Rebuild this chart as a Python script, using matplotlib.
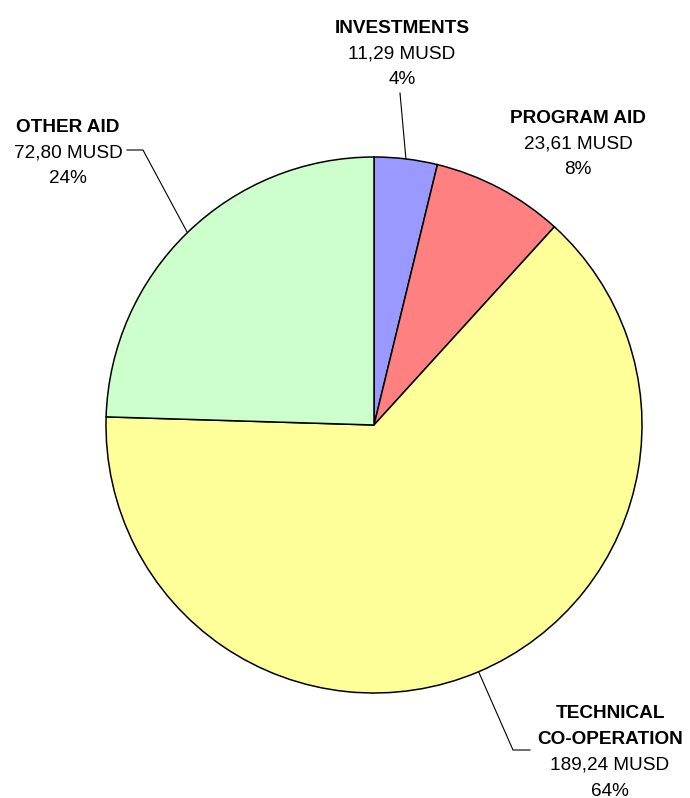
import numpy as np
import matplotlib.pyplot as plt

# data
categories = ['INVESTMENTS', 'PROGRAM AID', 'TECHNICAL\nCO-OPERATION', 'OTHER AID']
values = [11.29, 23.61, 189.24, 72.80]
value_labels = ['11,29 MUSD', '23,61 MUSD', '189,24 MUSD', '72,80 MUSD']
pct_labels = ['4%', '8%', '64%', '24%']
colors = ['#9999FF', '#FF8080', '#FFFF99', '#CCFFCC']

W, H = 690, 798
plt.rcParams['font.family'] = ['Liberation Sans', 'DejaVu Sans']
FS = 13.7

fig = plt.figure(figsize=(W / 100, H / 100), dpi=100)
ax = fig.add_axes([0, 0, 1, 1])
ax.set_xlim(0, W)
ax.set_ylim(0, H)
ax.set_aspect('equal')
ax.axis('off')


def py(y):
    # pixel row (top down) -> axes y (bottom up)
    return H - y


cx, cy, r = 374, py(425), 268
wedges, _ = ax.pie(values, colors=colors, startangle=90, counterclock=False,
                   center=(cx, cy), radius=r,
                   wedgeprops=dict(edgecolor='black', linewidth=1.1))
ax.set_xlim(0, W)
ax.set_ylim(0, H)


def edge_point(w):
    mid = np.deg2rad((w.theta1 + w.theta2) / 2)
    return cx + r * np.cos(mid), cy + r * np.sin(mid)


# label layout: (center x, baseline of first line in pixel rows)
label_pos = [(402, 33), (578, 123), (610, 718), (68, 132)]
line_gap = 25.5

for i, (lx, ly) in enumerate(label_pos):
    y = ly
    for ln in categories[i].split('\n'):
        ax.text(lx, py(y), ln, ha='center', va='baseline', fontsize=FS,
                fontweight='bold')
        y += line_gap + 1
    y -= 1
    ax.text(lx, py(y), value_labels[i], ha='center', va='baseline', fontsize=FS)
    y += line_gap
    ax.text(lx, py(y), pct_labels[i], ha='center', va='baseline', fontsize=FS)

# leader lines
lk = dict(color='black', linewidth=0.8)
ex, ey = edge_point(wedges[0])
ax.plot([400, ex], [py(93), ey], **lk)

ex, ey = edge_point(wedges[3])
ax.plot([127, 143, ex], [py(150), py(150), ey], **lk)

ex, ey = edge_point(wedges[2])
ax.plot([ex, 513, 530], [ey, py(750), py(750)], **lk)

fig.savefig('out.png', dpi=100)
